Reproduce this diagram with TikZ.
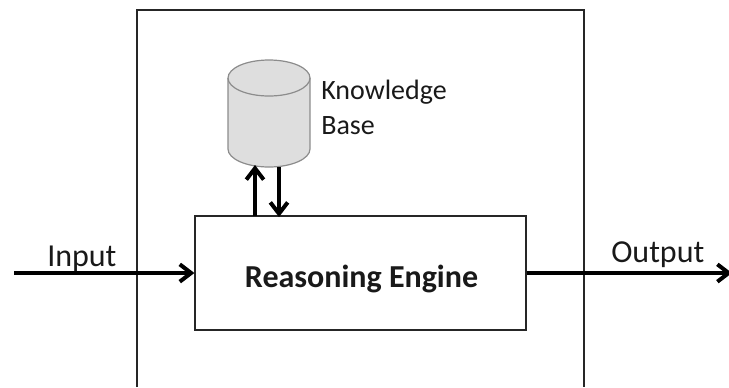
\documentclass[tikz,border=0pt]{standalone}
\usepackage{fontspec}
\setmainfont{Carlito}
\usetikzlibrary{arrows.meta}
\usetikzlibrary{positioning}

\tikzset{
  flowline/.style={black, line width=3pt, -{Straight Barb[length=8.5pt, width=13pt, line width=3pt]}},
  boxline/.style={draw=black!85, line width=.9pt},
  label/.style={inner sep=0pt, font=\fontsize{24}{26}\selectfont, text=black!90}
}

\begin{document}
\begin{tikzpicture} [x=.75pt, y=-.75pt]
\useasboundingbox (0,0) rectangle (729,387);

\draw[boxline] (137,387)--(137,10)--(584,10)--(584,387);

\node[boxline, minimum width=248.25pt, minimum height=85.5pt, inner sep=0pt] (engine) at (360.5,273) {};
\node[inner sep=0pt, font=\fontsize{24}{26}\selectfont\bfseries, text=black!90] (enginetext) at (361.5,279) {Reasoning Engine};

% cylinder
\filldraw[draw=black!45, fill=black!13, line width=.9pt] (228,78)--(228,149) arc (180:0:41 and 18)--(310,78) arc (0:-180:41 and 18)--cycle;
\draw[black!45, line width=.9pt] (228,78) arc (180:360:41 and -18);
\coordinate (KBup) at (255,165);
\coordinate (KBdown) at (279,167);
\coordinate (engineup) at (255,216);
\coordinate (enginedown) at (279,217);

\node[label, font=\fontsize{21}{26}\selectfont, align=left, anchor=north west] (kblabel) at (321,80) {Knowledge\\Base};

\draw[flowline] (engineup)--(KBup);
\draw[flowline] (KBdown)--(enginedown);

\coordinate (in) at (14,273);
\coordinate (out) at (732,273);
\draw[flowline] (in)--(engine.west);
\draw[flowline] (engine.east)--(out);

\node[label, anchor=base west] (input) at (47,266) {Input};
\node[label, anchor=base west] (output) at (611,262) {Output};
\end{tikzpicture}
\end{document}
